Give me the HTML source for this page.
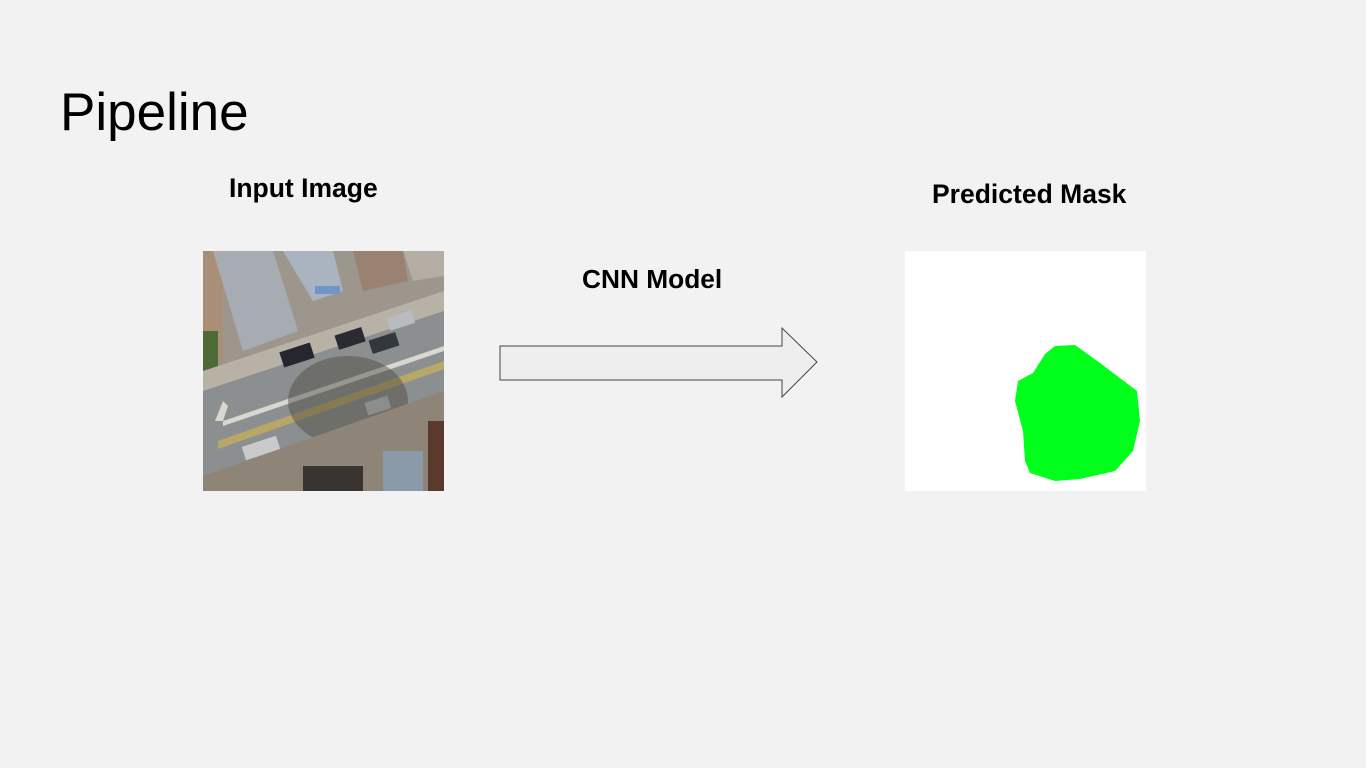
<!DOCTYPE html>
<html><head><meta charset="utf-8"><style>
html,body{margin:0;padding:0}
body{width:1366px;height:768px;background:#f2f2f2;position:relative;overflow:hidden;font-family:"Liberation Sans",Arial,sans-serif}
.t{position:absolute;color:#000;white-space:nowrap}
</style></head><body>
<div class="t" style="left:60px;top:82px;font-size:53px;">Pipeline</div>
<div class="t" style="left:229px;top:173px;font-size:26.5px;font-weight:bold;">Input Image</div>
<div class="t" style="left:582px;top:264px;font-size:26.3px;font-weight:bold;">CNN Model</div>
<div class="t" style="left:932px;top:179px;font-size:26.5px;font-weight:bold;">Predicted Mask</div>

<svg style="position:absolute;left:203px;top:251px" width="241" height="240" viewBox="0 0 241 240">
<rect width="241" height="240" fill="#9c968c"/>
<rect x="0" y="0" width="20" height="110" fill="#a98f78"/>
<rect x="0" y="80" width="15" height="40" fill="#4e6a38"/>
<polygon points="10,0 70,0 95,80 40,100" fill="#a7acb2"/>
<polygon points="80,0 130,0 140,40 110,50" fill="#a9b4c0"/>
<rect x="112" y="35" width="25" height="8" fill="#6f96c8"/>
<polygon points="150,0 200,0 205,30 160,40" fill="#9a8272"/>
<polygon points="200,0 241,0 241,25 210,30" fill="#b4ada3"/>
<polygon points="0,120 241,40 241,60 0,140" fill="#b7b1a6"/>
<polygon points="0,140 241,60 241,140 0,225" fill="#8c8f8f"/>
<polygon points="20,170 241,95 241,100 20,175" fill="#d8d8d0"/>
<polygon points="20,170 25,155 20,150 12,170" fill="#d8d8d0"/>
<polygon points="15,190 241,110 241,118 15,198" fill="#b7a868"/>
<rect x="78" y="96" width="32" height="16" fill="#26262e" transform="rotate(-18 94 104)"/>
<rect x="133" y="80" width="28" height="15" fill="#2a2a33" transform="rotate(-18 147 87)"/>
<rect x="167" y="85" width="28" height="14" fill="#33383c" transform="rotate(-18 181 92)"/>
<rect x="185" y="63" width="26" height="13" fill="#b8bcc0" transform="rotate(-18 198 70)"/>
<rect x="163" y="148" width="24" height="13" fill="#c4c8cc" transform="rotate(-18 175 155)"/>
<rect x="40" y="190" width="36" height="14" fill="#c8cacc" transform="rotate(-18 58 197)"/>
<ellipse cx="145" cy="150" rx="60" ry="45" fill="#4a4640" opacity="0.45"/>
<polygon points="0,225 241,140 241,240 0,240" fill="#8e8478"/>
<rect x="100" y="215" width="60" height="25" fill="#3a3430"/>
<rect x="180" y="200" width="40" height="40" fill="#8a9aa8"/>
<rect x="225" y="170" width="16" height="70" fill="#5a3a2e"/>
</svg>

<svg style="position:absolute;left:0;top:0" width="1366" height="768">
<polygon points="500,346 782,346 782,328 817,362 782,397 782,380 500,380" fill="#eeeeee" stroke="#444" stroke-width="1"/>
</svg>

<svg style="position:absolute;left:905px;top:251px" width="241" height="240" viewBox="0 0 241 240">
<rect width="241" height="240" fill="#fff"/>
<polygon points="150,95 170,94 195,112 232,140 235,170 228,200 210,220 175,228 150,230 125,222 120,210 118,180 110,150 113,130 128,122 140,103" fill="#00ff1a"/>
</svg>
</body></html>
